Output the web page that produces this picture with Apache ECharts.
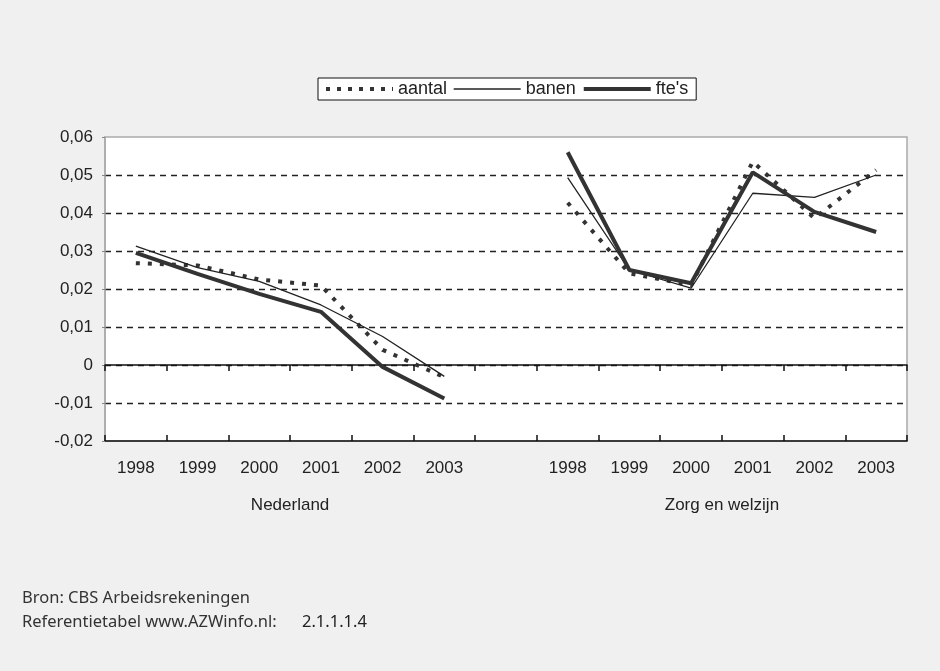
<!DOCTYPE html>
<html>
<head>
<meta charset="utf-8">
<script src="https://cdn.jsdelivr.net/npm/echarts@6/dist/echarts.min.js"></script>
<style>html,body{margin:0;padding:0;background:#f0f0f0;}#c{width:940px;height:671px;}</style>
</head>
<body>
<div id="c"></div>
<script>
var categories = ['1998','1999','2000','2001','2002','2003','','1998','1999','2000','2001','2002','2003'];
var groupLabels = ['Nederland', 'Zorg en welzijn'];
var aantal = [0.0268, 0.0262, 0.0225, 0.0209, 0.0040, -0.0032, null, 0.0427, 0.0241, 0.0210, 0.0535, 0.0386, 0.0513];
var banen  = [0.0313, 0.0256, 0.0220, 0.0158, 0.0075, -0.0030, null, 0.0493, 0.0250, 0.0202, 0.0452, 0.0441, 0.0500];
var ftes   = [0.0295, 0.0240, 0.0187, 0.0140, -0.0005, -0.0088, null, 0.0560, 0.0250, 0.0215, 0.0507, 0.0403, 0.0350];
var footnotes = ['Bron: CBS Arbeidsrekeningen', 'Referentietabel www.AZWinfo.nl:', '2.1.1.1.4'];

var chart = echarts.init(document.getElementById('c'));
var font = 'Liberation Sans';
var gridColors = ['rgba(0,0,0,0)','#222','#222','#222','#222','#222','#222','#222','rgba(0,0,0,0)'];
chart.setOption({
  backgroundColor: '#f0f0f0',
  animation: false,
  textStyle: { fontFamily: font },
  legend: {
    left: 318, top: 78,
    backgroundColor: '#fff', borderColor: '#111', borderWidth: 1,
    padding: [2, 8, 2, 6], itemGap: 6, itemWidth: 67, itemHeight: 16,
    itemStyle: { opacity: 0 },
    textStyle: { fontSize: 18, color: '#222', fontFamily: font },
    data: [
      { name: 'aantal', lineStyle: { width: 4, type: [4, 7], cap: 'butt', color: '#333' } },
      { name: 'banen', lineStyle: { width: 1.3, color: '#222' } },
      { name: "fte's", lineStyle: { width: 4, color: '#333' } }
    ]
  },
  grid: {
    left: 105, right: 33, top: 137, bottom: 230,
    show: true, backgroundColor: '#fff', borderColor: '#aaa', borderWidth: 1.5
  },
  xAxis: [
    { type: 'category', data: categories, position: 'bottom', axisLine: { show: false, onZero: false },
      axisTick: { show: false }, axisLabel: { fontSize: 17, fontFamily: font, color: '#222', margin: 19, interval: 0 } },
    { type: 'category', data: categories, position: 'bottom',
      axisLine: { onZero: true, lineStyle: { color: '#111', width: 1.5 } },
      axisTick: { show: true, length: 6, lineStyle: { color: '#111', width: 1.5 } }, axisLabel: { show: false } },
    { type: 'category', data: categories, position: 'bottom',
      axisLine: { onZero: true, lineStyle: { color: '#111', width: 1.5 } },
      axisTick: { show: true, inside: true, length: 6, lineStyle: { color: '#111', width: 1.5 } }, axisLabel: { show: false } },
    { type: 'value', min: 0, max: 13, interval: 1, position: 'bottom',
      axisLine: { show: false, onZero: false }, axisTick: { show: false }, splitLine: { show: false },
      axisLabel: { fontSize: 17, fontFamily: font, color: '#222', margin: 56,
        formatter: function (v) { return v === 3 ? groupLabels[0] : (v === 10 ? groupLabels[1] : ''); } } }
  ],
  yAxis: {
    type: 'value', min: -0.02, max: 0.06, interval: 0.01,
    axisLine: { show: true, lineStyle: { color: '#aaa', width: 1.5 } },
    axisTick: { show: true, length: 3, lineStyle: { color: '#888' } },
    axisLabel: { fontSize: 17, fontFamily: font, color: '#222', margin: 12,
      formatter: function (v) { var r = Math.round(v * 100) / 100; return r === 0 ? '0' : r.toFixed(2).replace('.', ','); } },
    splitLine: { show: true, lineStyle: { color: gridColors, type: [6, 5], width: 1.3 } }
  },
  series: [
    { name: 'aantal', type: 'line', data: aantal, symbol: 'none', connectNulls: false,
      lineStyle: { color: '#333', width: 4, type: [4, 8], cap: 'butt' }, itemStyle: { color: '#333' }, z: 3 },
    { name: 'banen', type: 'line', data: banen, symbol: 'none', connectNulls: false,
      lineStyle: { color: '#222', width: 1.3 }, itemStyle: { color: '#222' }, z: 4 },
    { name: "fte's", type: 'line', data: ftes, symbol: 'none', connectNulls: false,
      lineStyle: { color: '#333', width: 4 }, itemStyle: { color: '#333' }, z: 5 }
  ],
  graphic: [
    { type: 'text', left: 22, top: 590, style: { text: footnotes[0], font: '16.5px "Noto Sans", sans-serif', fill: '#333' } },
    { type: 'text', left: 22, top: 614, style: { text: footnotes[1], font: '16.5px "Noto Sans", sans-serif', fill: '#333' } },
    { type: 'text', left: 302, top: 614, style: { text: footnotes[2], font: '16.5px "Noto Sans", sans-serif', fill: '#222', letterSpacing: 1.5 } }
  ]
});
</script>
</body>
</html>
